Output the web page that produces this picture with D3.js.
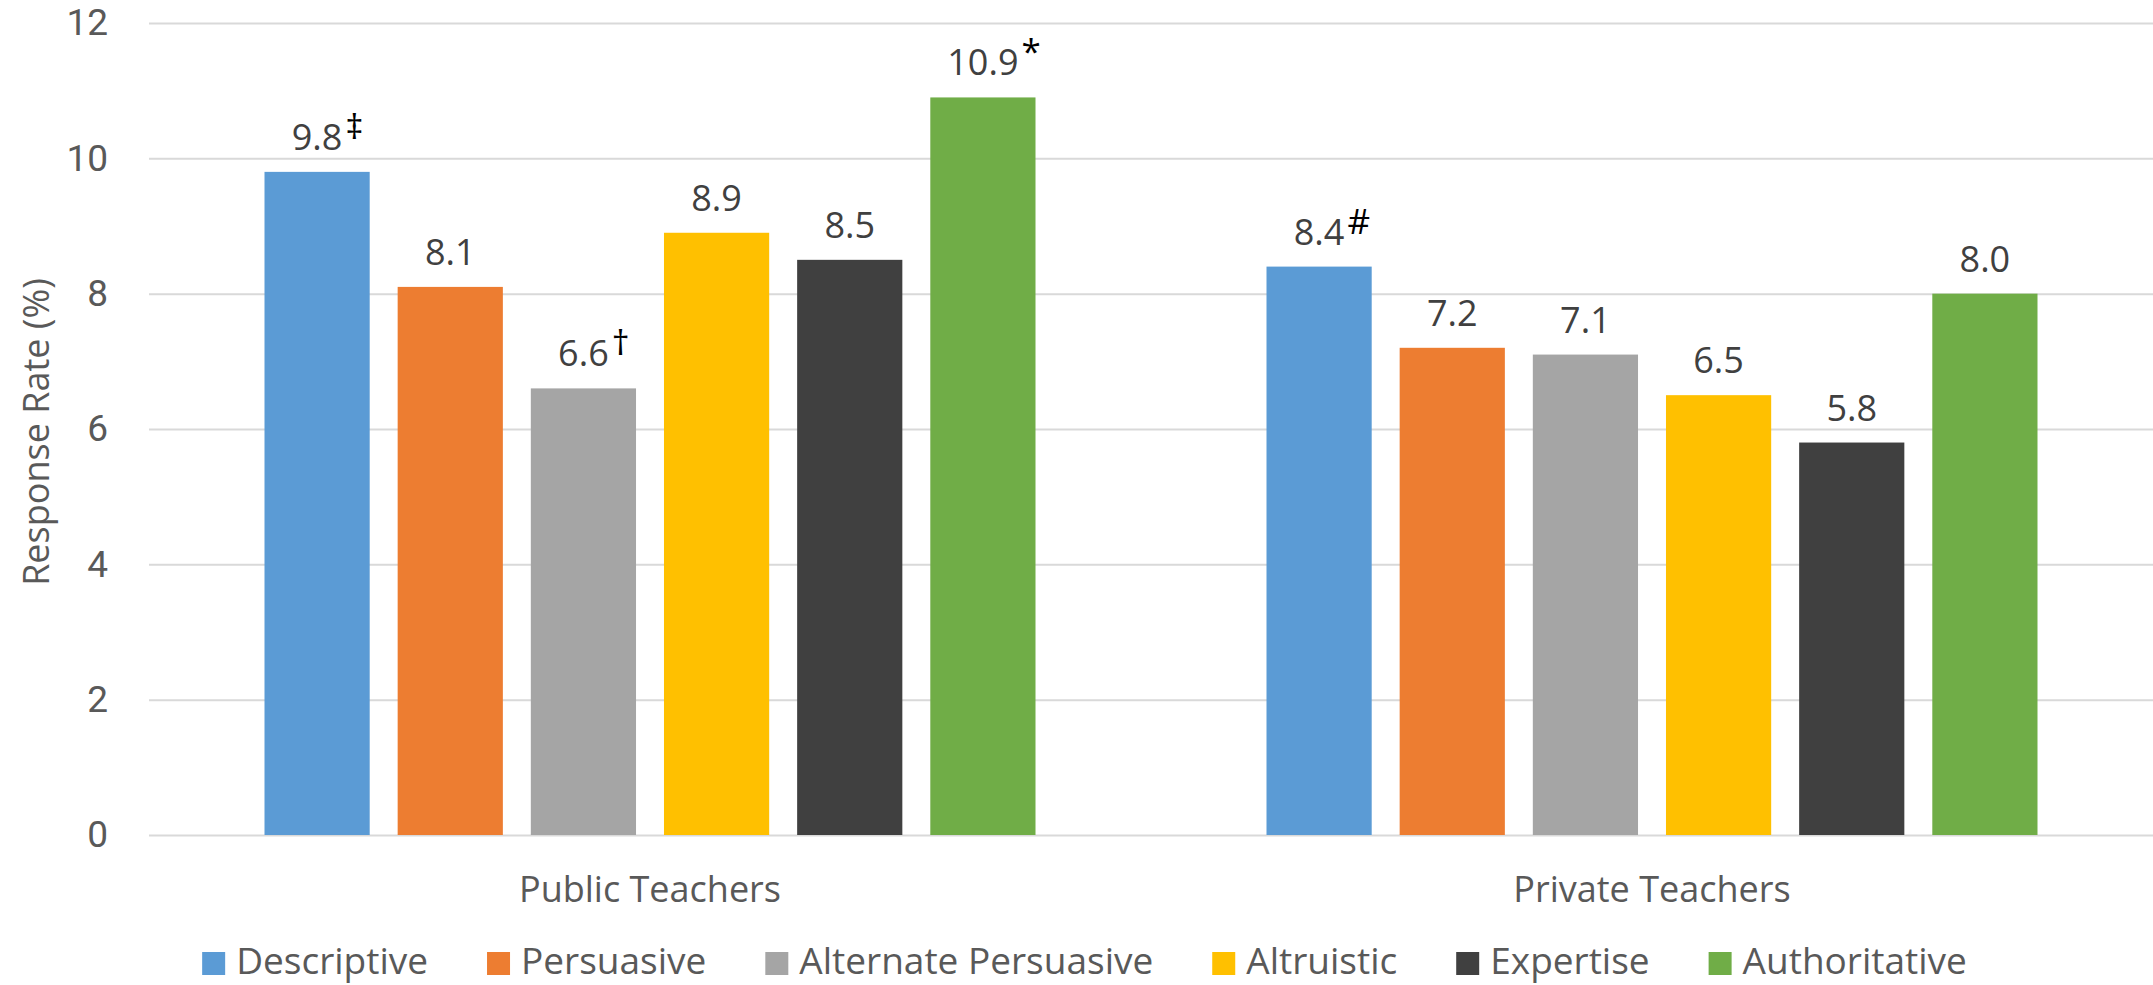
<!DOCTYPE html>
<html>
<head>
<meta charset="utf-8">
<script src="https://cdn.jsdelivr.net/npm/d3@7"></script>
<style>
  html, body { margin: 0; padding: 0; background: #ffffff; }
  svg { display: block; }
  text { font-family: "Open Sans", "Noto Sans", sans-serif; }
  .tick text { font-family: Roboto, "Open Sans", sans-serif; }
</style>
</head>
<body>
<svg id="chart" width="2153" height="985"></svg>
<script>
// Response rates (%) by letter type, for each teacher group
const groups = ["Public Teachers", "Private Teachers"];
const seriesNames = ["Descriptive", "Persuasive", "Alternate Persuasive", "Altruistic", "Expertise", "Authoritative"];
const publicValues = [9.8, 8.1, 6.6, 8.9, 8.5, 10.9];
const privateValues = [8.4, 7.2, 7.1, 6.5, 5.8, 8.0];
const publicMarks = ["\u2021", "", "\u2020", "", "", "*"];
const privateMarks = ["#", "", "", "", "", ""];
const yTicks = [0, 2, 4, 6, 8, 10, 12];
const seriesColors = ["#5B9BD5", "#ED7D31", "#A5A5A5", "#FFC000", "#404040", "#70AD47"];
const yTitle = "Response Rate (%)";

const rows = [
  { group: groups[0], values: publicValues, marks: publicMarks },
  { group: groups[1], values: privateValues, marks: privateMarks }
];

const svg = d3.select("#chart");
const plot = { left: 149, right: 2153, top: 23, bottom: 835 };

const x0 = d3.scaleBand().domain(groups).range([plot.left, plot.right]).padding(0);
const groupPad = 115.5;
const x1 = d3.scaleBand().domain(seriesNames)
  .range([groupPad, x0.bandwidth() - groupPad])
  .paddingInner(0.21).paddingOuter(0);
const y = d3.scaleLinear().domain([0, 12]).range([plot.bottom, plot.top]);
const color = d3.scaleOrdinal().domain(seriesNames).range(seriesColors);

// Horizontal gridlines and y tick labels
const yAxis = d3.axisLeft(y).tickValues(yTicks).tickSize(-(plot.right - plot.left)).tickPadding(41).tickFormat(d3.format("d"));
const gy = svg.append("g").attr("transform", `translate(${plot.left},0)`).call(yAxis);
gy.select(".domain").remove();
gy.selectAll(".tick line").attr("stroke", "#d9d9d9").attr("stroke-width", 2);
gy.selectAll(".tick text").attr("fill", "#595959").style("font-size", "37px").attr("font-family", null);

// Bars
const gBars = svg.append("g");
rows.forEach(row => {
  const g = gBars.append("g").attr("transform", `translate(${x0(row.group)},0)`);
  seriesNames.forEach((name, i) => {
    const v = row.values[i];
    g.append("rect")
      .attr("x", x1(name))
      .attr("y", y(v))
      .attr("width", x1.bandwidth())
      .attr("height", y(0) - y(v))
      .attr("fill", color(name));
  });
});

// Data labels, with the significance marks set as superscripts
const gLabels = svg.append("g");
rows.forEach(row => {
  seriesNames.forEach((name, i) => {
    const v = row.values[i];
    const cx = x0(row.group) + x1(name) + x1.bandwidth() / 2;
    const by = y(v) - 22;
    const t = gLabels.append("text")
      .attr("x", cx).attr("y", by)
      .attr("text-anchor", "middle")
      .attr("fill", "#404040")
      .style("font-size", "36px")
      .text(d3.format(".1f")(v));
    const mark = row.marks[i];
    if (mark) {
      const nb = t.node().getBBox();
      const s = gLabels.append("text")
        .attr("x", nb.x + nb.width + 3).attr("y", by)
        .attr("fill", "#000000")
        .style("font-size", "35px")
        .text(mark);
      const sb = s.node().getBBox();
      const targetCenter = by - 13.5 - 11;
      s.attr("y", by + (targetCenter - (sb.y + sb.height / 2)));
    }
  });
});

// Category labels
svg.append("g").selectAll("text").data(groups).join("text")
  .attr("x", d => x0(d) + x0.bandwidth() / 2)
  .attr("y", 902)
  .attr("text-anchor", "middle")
  .attr("fill", "#595959")
  .style("font-size", "36px")
  .text(d => d);

// Y axis title
svg.append("text")
  .attr("transform", `translate(49,${(plot.top + plot.bottom) / 2 + 3}) rotate(-90)`)
  .attr("text-anchor", "middle")
  .attr("fill", "#595959")
  .style("font-size", "36px")
  .text(yTitle);

// Legend, laid out in one row and centred
const legend = svg.append("g");
const sw = 23, swGap = 11, itemGap = 59;
let cursor = 0;
seriesNames.forEach(name => {
  const g = legend.append("g");
  g.append("rect").attr("x", 0).attr("y", -22).attr("width", sw).attr("height", sw).attr("fill", color(name));
  const t = g.append("text").attr("x", sw + swGap).attr("y", 0).attr("fill", "#595959").style("font-size", "37px").text(name);
  const w = sw + swGap + t.node().getComputedTextLength();
  g.attr("transform", `translate(${cursor},0)`);
  cursor += w + itemGap;
});
const legendWidth = cursor - itemGap;
legend.attr("transform", `translate(${1084.5 - legendWidth / 2},974)`);
</script>
</body>
</html>
